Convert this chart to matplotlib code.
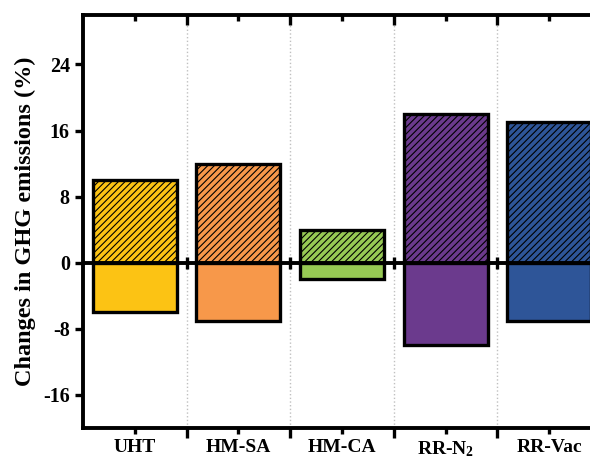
import numpy as np
import matplotlib.pyplot as plt
import matplotlib as mpl
from matplotlib.markers import TICKDOWN

mpl.rcParams['font.family'] = ['Liberation Serif', 'DejaVu Serif']
mpl.rcParams['font.weight'] = 'bold'
mpl.rcParams['axes.labelweight'] = 'bold'
mpl.rcParams['axes.unicode_minus'] = False
mpl.rcParams['mathtext.fontset'] = 'custom'
mpl.rcParams['mathtext.rm'] = 'Liberation Serif:bold'
mpl.rcParams['mathtext.it'] = 'Liberation Serif:bold'
mpl.rcParams['mathtext.bf'] = 'Liberation Serif:bold'
mpl.rcParams['hatch.linewidth'] = 0.8

categories = ['UHT', 'HM-SA', 'HM-CA', 'RR-N$_2$', 'RR-Vac']
increase = [10, 12, 4, 18, 17]
decrease = [-6, -7, -2, -10, -7]
colors = ['#fcc314', '#f7984a', '#97c954', '#6b3a8d', '#2e5598']

x = np.arange(len(categories))
w = 0.81

fig = plt.figure(figsize=(5.9, 4.59), dpi=100)
ax = fig.add_axes([0.1407, 0.0675, 0.878, 0.90])

ax.bar(x, increase, w, color=colors, edgecolor='black', linewidth=2.4,
       hatch='/////', zorder=3)
ax.bar(x, decrease, w, color=colors, edgecolor='black', linewidth=2.4,
       zorder=3)
ax.axhline(0, color='black', linewidth=2.8, zorder=4)

bounds = np.arange(len(categories) - 1) + 0.5
# small ticks on the zero line between groups
ax.plot(bounds, np.zeros(len(bounds)), linestyle='none', marker='|',
        markersize=8, markeredgewidth=2.4, color='black', zorder=5)

ax.set_xlim(-0.5, len(categories) - 0.5)
ax.set_ylim(-20, 30)
ax.set_yticks([-16, -8, 0, 8, 16, 24])
ax.set_xticks(bounds)
ax.set_xticks(x, minor=True)
ax.set_xticklabels([])
ax.set_xticklabels(categories, minor=True, fontsize=14)
ax.tick_params(axis='x', which='major', length=7, width=2.4, direction='out')
ax.tick_params(axis='x', which='minor', length=4, width=2.4, direction='out', pad=4)
ax.tick_params(axis='y', length=6, width=2.4, direction='out', labelsize=14.5)
ax.grid(axis='x', which='major', color='#c0c0c0', linestyle=':', linewidth=1.0)

# inward ticks along the top edge
top = ax.get_xaxis_transform()
ax.plot(bounds, np.ones(len(bounds)), transform=top, linestyle='none',
        marker=TICKDOWN, markersize=7, markeredgewidth=2.4, color='black',
        clip_on=False, zorder=6)
ax.plot(x, np.ones(len(x)), transform=top, linestyle='none',
        marker=TICKDOWN, markersize=4, markeredgewidth=2.4, color='black',
        clip_on=False, zorder=6)

for s in ['left', 'bottom', 'top']:
    ax.spines[s].set_linewidth(2.8)
ax.spines['right'].set_visible(False)

ax.set_ylabel('Changes in GHG emissions (%)', fontsize=17.5, labelpad=5)

fig.savefig('out.png', dpi=100)
